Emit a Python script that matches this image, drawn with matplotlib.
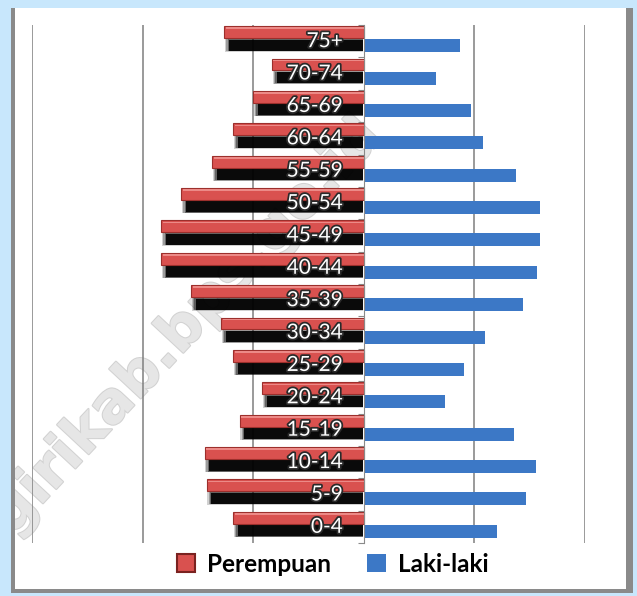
import numpy as np
import matplotlib.pyplot as plt
import matplotlib.patheffects as pe
from matplotlib.patches import Rectangle, Patch

# age groups from bottom to top
age_groups = ['0-4', '5-9', '10-14', '15-19', '20-24', '25-29', '30-34', '35-39',
              '40-44', '45-49', '50-54', '55-59', '60-64', '65-69', '70-74', '75+']
perempuan = [1180, 1420, 1440, 1120, 920, 1180, 1290, 1560,
             1830, 1830, 1650, 1370, 1180, 1000, 830, 1260]
laki_laki = [1200, 1470, 1560, 1360, 730, 910, 1100, 1440,
             1570, 1590, 1590, 1380, 1080, 970, 650, 870]
grid_x = [-3000, -2000, -1000, 1000, 2000]

RED = '#d9514f'
BLUE = '#3c78c6'

W, H = 637, 596
fig = plt.figure(figsize=(W / 100, H / 100), dpi=100)
fig.patch.set_facecolor('#c8e7fc')

# white panel with grey shadow edge (left, right, bottom)
shadow = Rectangle((11 / W, 3 / H), 622 / W, 585 / H, transform=fig.transFigure,
                   facecolor='#8a8a8a', edgecolor='none', zorder=-3)
fig.add_artist(shadow)
panel = Rectangle((15 / W, 7 / H), 611 / W, 581 / H, transform=fig.transFigure,
                  facecolor='white', edgecolor='none', zorder=-2)
fig.add_artist(panel)

# watermark (partly hidden at the panel edge, as in the source)
wm = fig.text(-105 / W, 1 - 662 / H, 'wonogirikab.bps.go.id', rotation=47,
              rotation_mode='anchor', ha='left', va='baseline', fontsize=41,
              fontweight='bold', family='DejaVu Sans', color='#e6e6e6', zorder=-1,
              path_effects=[pe.withStroke(linewidth=1.5, foreground='#d2d2d2')])
wm.set_clip_path(panel)

ax = fig.add_axes([32 / W, 1 - 543 / H, 553 / W, 518 / H])
ax.set_facecolor('none')

y = np.arange(len(age_groups))
f = np.array(perempuan)
m = np.array(laki_laki)

for gx in grid_x:
    ax.axvline(gx, color='#7f7f7f', lw=1.1, zorder=1)

# blurred black shadow under the female bars
for k, a in enumerate([0.18, 0.25, 0.35, 0.9]):
    ax.barh(y - 0.12, -(f - 10 - 12 * k), height=0.40 - 0.02 * k, left=-5,
            color='black', alpha=a, edgecolor='none', zorder=2)
ax.barh(y + 0.28, -f, height=0.37, color=RED, edgecolor='#9c2f2c', lw=0.8, zorder=3)
ax.barh(y + 0.40, -f * 0.99, height=0.05, color='#ec8a87', edgecolor='none', zorder=3)

ax.barh(y - 0.14, m, height=0.40, color=BLUE, edgecolor='none', zorder=3)

for yi, lab in zip(y, age_groups):
    ax.text(-190, yi, lab, ha='right', va='center', color='white', fontsize=15,
            family='Lato', zorder=5,
            path_effects=[pe.withStroke(linewidth=2.5, foreground='#2a2a2a')])

ax.set_xlim(-3000, 2000)
ax.set_ylim(-0.5, len(age_groups) - 0.5)
ax.set_xticks([])
ax.set_yticks(np.arange(len(age_groups) + 1) - 0.5)
ax.set_yticklabels([])
ax.tick_params(axis='y', length=4, color='#8a8a8a', direction='out')
for s in ['top', 'right', 'bottom']:
    ax.spines[s].set_visible(False)
ax.spines['left'].set_position(('data', 0))
ax.spines['left'].set_color('#8a8a8a')
ax.spines['left'].set_zorder(4)

handles = [Patch(facecolor=RED, edgecolor='#7a2220', lw=1.5),
           Patch(facecolor=BLUE, edgecolor='none')]
fig.legend(handles, ['Perempuan', 'Laki-laki'], loc='center',
           bbox_to_anchor=(0.522, 1 - 564 / H), ncol=2, frameon=False,
           handlelength=0.75, handleheight=0.75, handletextpad=0.5, columnspacing=1.5,
           prop={'family': 'Lato', 'weight': 'bold', 'size': 17.5})

fig.savefig('out.png', dpi=100, facecolor=fig.get_facecolor())
